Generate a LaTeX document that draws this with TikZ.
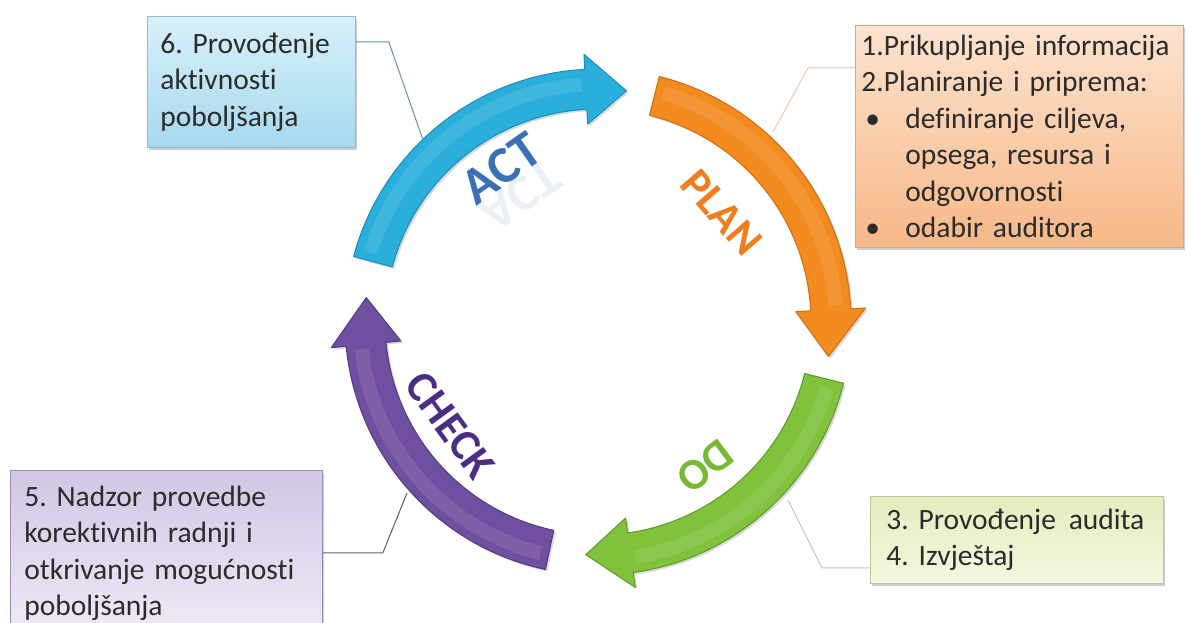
\documentclass[tikz,border=0pt]{standalone}
\usepackage{fontspec}
\setmainfont{Carlito}[Ligatures={NoCommon}]
\usetikzlibrary{shadows}
\definecolor{actc}{HTML}{2AAEDB}
\definecolor{actd}{HTML}{1B8DB8}
\definecolor{planc}{HTML}{F38B1F}
\definecolor{pland}{HTML}{D06C12}
\definecolor{doc}{HTML}{80C23C}
\definecolor{dod}{HTML}{5E9A27}
\definecolor{chkc}{HTML}{6F4F9F}
\definecolor{chkd}{HTML}{533A80}
\definecolor{actl}{HTML}{3B6FB6}
\definecolor{planl}{HTML}{F07D1F}
\definecolor{dol}{HTML}{78B933}
\definecolor{chkl}{HTML}{4B2D83}
\definecolor{txt}{HTML}{2B2B2B}
\definecolor{bsixtop}{HTML}{D8F0FA}
\definecolor{bsixbot}{HTML}{A6D9EE}
\definecolor{bsixline}{HTML}{8DBDD4}
\definecolor{plantop}{HTML}{FDE3CF}
\definecolor{planbot}{HTML}{F7B887}
\definecolor{planline}{HTML}{D9A77F}
\definecolor{dotop}{HTML}{E3EDBE}
\definecolor{dobot}{HTML}{F3F8E0}
\definecolor{doline}{HTML}{B8C89A}
\definecolor{chktop}{HTML}{D2C6E4}
\definecolor{chkbot}{HTML}{F0EAF6}
\definecolor{chkline}{HTML}{9A8CB4}
\definecolor{cbsix}{HTML}{5B93B0}
\definecolor{cplan}{HTML}{E9C9A9}
\definecolor{cdo}{HTML}{C5C9B5}
\definecolor{cchk}{HTML}{5D5F6E}
% tail angle, head-base angle, tip angle, fill, edge
\newcommand{\pdcaarrow}[5]{%
  \fill[#4, draw=#5, line width=1pt, line join=round,
        drop shadow={shadow xshift=2pt, shadow yshift=-2pt, opacity=0.25, fill=black!60}]
    (#1:253pt) arc[start angle=#1, end angle=#2, radius=253pt]
    -- (#2:268pt) -- (#3:233pt) -- (#2:198pt) -- (#2:213pt)
    arc[start angle=#2, end angle=#1, radius=213pt] -- cycle;
  \draw[white, opacity=0.10, line width=14pt]
    (#1-2:238pt) arc[start angle=#1-2, end angle=#2+1, radius=238pt];
}
\tikzset{
  box/.style={rectangle, draw, line width=0.8pt, anchor=north west, align=left,
    font=\fontsize{29.5}{36.5}\selectfont\frenchspacing, text=txt, inner ysep=0pt,
    drop shadow={shadow xshift=2pt, shadow yshift=-3pt, opacity=0.35, fill=black!55}},
  conn/.style={line width=1pt},
  lbl/.style={font=\fontsize{44}{44}\selectfont\bfseries, anchor=base},
}
\begin{document}
\begin{tikzpicture}[x=1pt, y=1pt]
\useasboundingbox (0,0) rectangle (1196,623);
\fill[white] (0,0) rectangle (1196,623);

% cycle arrows
\begin{scope}[shift={(598,301)}]
  \pdcaarrow{165}{93}{83}{actc}{actd}
  \pdcaarrow{76}{3}{-8.5}{planc}{pland}
  \pdcaarrow{-14}{-82}{-93}{doc}{dod}
  \pdcaarrow{-102}{-174.5}{-186}{chkc}{chkd}
\end{scope}

% arrow labels
\node[lbl, text=actl, opacity=0.10, rotate=35, yscale=-1,
      font=\fontsize{52}{52}\selectfont\bfseries] (actr) at (511,441) {ACT};
\node[lbl, text=actl, rotate=35, font=\fontsize{52}{52}\selectfont\bfseries] (act) at (511,441) {ACT};
\node[lbl, text=planl, rotate=-49] (planlbl) at (711,401) {PLAN};
\node[lbl, text=dol, rotate=-143] (dolbl) at (697,168) {DO};
\node[lbl, text=chkl, rotate=-54] (chklbl) at (439,189) {CHECK};

% text boxes
\node[box, top color=bsixtop, bottom color=bsixbot, draw=bsixline,
      inner xsep=13pt, text width=182pt, minimum height=131pt] (b6) at (147,607)
  {6. Provođenje\\aktivnosti\\poboljšanja};
\node[box, top color=plantop, bottom color=planbot, draw=planline,
      inner xsep=6pt, text width=316pt, minimum height=222pt] (plan) at (855,598)
  {1.Prikupljanje informacija\\
   2.Planiranje i priprema:\\
   \makebox[44pt][l]{\hspace{4pt}•}definiranje ciljeva,\\
   \hspace*{44pt}opsega, resursa i\\
   \hspace*{44pt}odgovornosti\\
   \makebox[44pt][l]{\hspace{4pt}•}odabir auditora};
\node[box, top color=dotop, bottom color=dobot, draw=doline,
      inner xsep=16pt, text width=261pt, minimum height=87pt] (do) at (870,127)
  {3. Provođenje\hspace{3pt} audita\\4. Izvještaj};
\node[box, top color=chktop, bottom color=chkbot, draw=chkline,
      inner xsep=14pt, text width=284pt, minimum height=166pt] (chk) at (10,153)
  {5. Nadzor provedbe\\korektivnih radnji i\\otkrivanje mogućnosti\\poboljšanja};

% connector end points on the arrows
\coordinate (pact) at (423,483);
\coordinate (pplan) at (773,491);
\coordinate (pdo) at (788,123);
\coordinate (pchk) at (407,130);

\draw[conn, cbsix] ([yshift=-26pt]b6.north east) -- ++(33,0) -- (pact);
\draw[conn, cplan] ([yshift=-43pt]plan.north west) -- ++(-47,0) -- (pplan);
\draw[conn, cdo] ([yshift=16pt]do.south west) -- ++(-48,0) -- (pdo);
\draw[conn, cchk] ([yshift=-83pt]chk.north east) -- ++(60,0) -- (pchk);
\end{tikzpicture}
\end{document}
